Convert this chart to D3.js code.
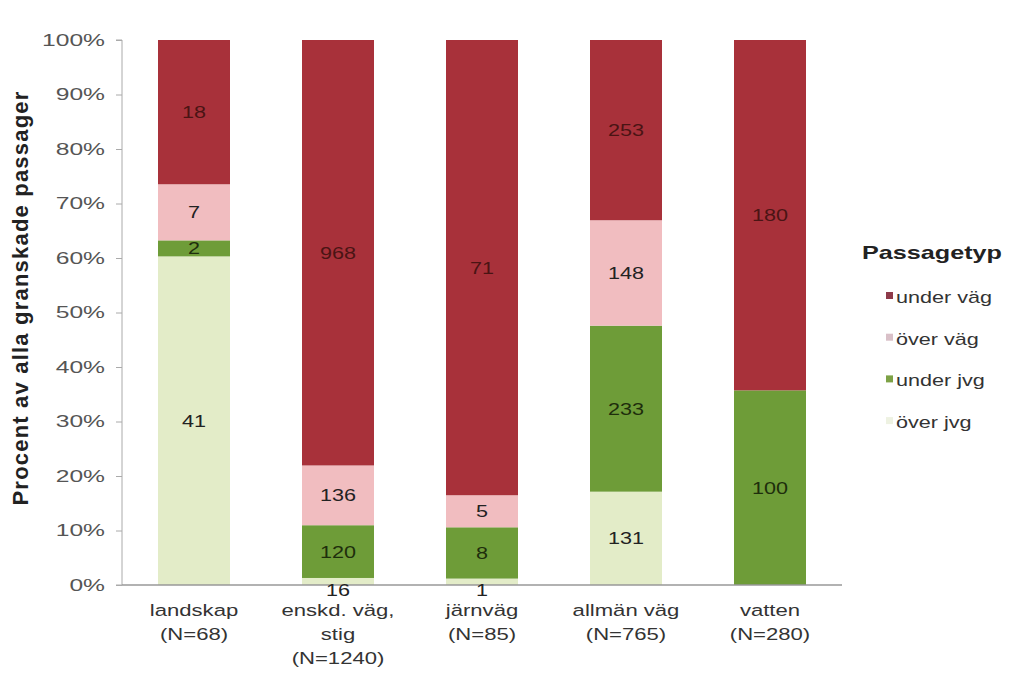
<!DOCTYPE html>
<html><head><meta charset="utf-8">
<script src="https://cdn.jsdelivr.net/npm/d3@7"></script>
<style>body{margin:0;background:#fff;} text{font-family:"Liberation Sans",Arial,sans-serif;}</style>
</head><body><svg id="c" width="1009" height="681"></svg>
<script>
const categories = ["landskap|(N=68)", "enskd. väg,|stig|(N=1240)", "järnväg|(N=85)", "allmän väg|(N=765)", "vatten|(N=280)"];
const seriesNames = ["över jvg", "under jvg", "över väg", "under väg"];
const overJvg  = [41, 16, 1, 131, 0];
const underJvg = [2, 120, 8, 233, 100];
const overVag  = [7, 136, 5, 148, 0];
const underVag = [18, 968, 71, 253, 180];
const yTicks = [0,0.1,0.2,0.3,0.4,0.5,0.6,0.7,0.8,0.9,1];
const colors = ["#e3ecc8", "#6e9c38", "#f1bdc0", "#a8313a"];
const labelColors = ["#222", "#1e2e0c", "#222", "#4a1414"];
const legendOrder = ["under väg", "över väg", "under jvg", "över jvg"];
const legendMarkers = ["#8e3a4a", "#d9c0c8", "#7da246", "#eef2e2"];

const svg = d3.select("#c");
const m = {l:122, r:842, t:40, b:585};
const x = d3.scaleBand().domain(categories).range([m.l, m.r]).paddingInner(0.5).paddingOuter(0.25);
const y = d3.scaleLinear().domain([0,1]).range([m.b, m.t]);

const table = categories.map((c,i)=>({cat:c, "över jvg":overJvg[i], "under jvg":underJvg[i], "över väg":overVag[i], "under väg":underVag[i]}));
const stack = d3.stack().keys(seriesNames).offset(d3.stackOffsetExpand);
const layers = stack(table);

function stext(parent, px, py, sx, str) {
  return parent.append("text").attr("transform",`translate(${px},${py}) scale(${sx},1)`).text(str);
}

// y axis
const yAxis = d3.axisLeft(y).tickValues(yTicks).tickFormat(d3.format(".0%")).tickSize(6);
const ga = svg.append("g").attr("transform",`translate(${m.l},0)`).call(yAxis);
ga.selectAll("text").attr("x",0).attr("transform","translate(-17,0) scale(1.45,1)")
  .attr("font-size",17).attr("fill","#555");
ga.selectAll("line").attr("stroke","#aaa");
ga.select(".domain").attr("stroke","#aaa").attr("d",`M-6,${m.t}H0V${m.b}H-6`);

svg.append("text").attr("transform",`translate(28,${298}) rotate(-90)`)
  .attr("text-anchor","middle").attr("font-size",22).attr("letter-spacing",1.2).attr("font-weight","bold").attr("fill","#222")
  .text("Procent av alla granskade passager");

// bars
layers.forEach((L,si)=>{
  svg.append("g").selectAll("rect").data(L).join("rect")
    .attr("x",d=>x(d.data.cat)).attr("width",x.bandwidth())
    .attr("y",d=>y(d[1])).attr("height",d=>Math.max(0,y(d[0])-y(d[1])))
    .attr("fill",colors[si]);
});
// x axis line
svg.append("line").attr("x1",m.l).attr("x2",m.r).attr("y1",m.b).attr("y2",m.b).attr("stroke","#999").attr("stroke-width",1.5);

// segment labels
layers.forEach((L,si)=>{
  const g = svg.append("g");
  L.filter(d=>d.data[L.key]>0).forEach(d=>{
    const h = y(d[0])-y(d[1]);
    const py = h<12 ? y(d[0])+11 : (y(d[0])+y(d[1]))/2+6;
    stext(g, x(d.data.cat)+x.bandwidth()/2, py, 1.35, d.data[L.key])
      .attr("text-anchor","middle").attr("font-size",16).attr("fill",labelColors[si]);
  });
});

// x labels
categories.forEach(c=>{
  c.split("|").forEach((s,i)=>{
    stext(svg, x(c)+x.bandwidth()/2, 616+i*24, 1.3, s)
      .attr("text-anchor","middle").attr("font-size",17).attr("fill","#333");
  });
});

// legend
stext(svg, 862, 259, 1.4, "Passagetyp").attr("font-size",18).attr("font-weight","bold").attr("fill","#222");
legendOrder.forEach((n,i)=>{
  const yy = 303 + i*41.7;
  svg.append("rect").attr("x",886).attr("y",yy-11).attr("width",7).attr("height",7).attr("fill",legendMarkers[i]);
  stext(svg, 896, yy, 1.27, n).attr("font-size",17).attr("fill","#333");
});
</script></body></html>
